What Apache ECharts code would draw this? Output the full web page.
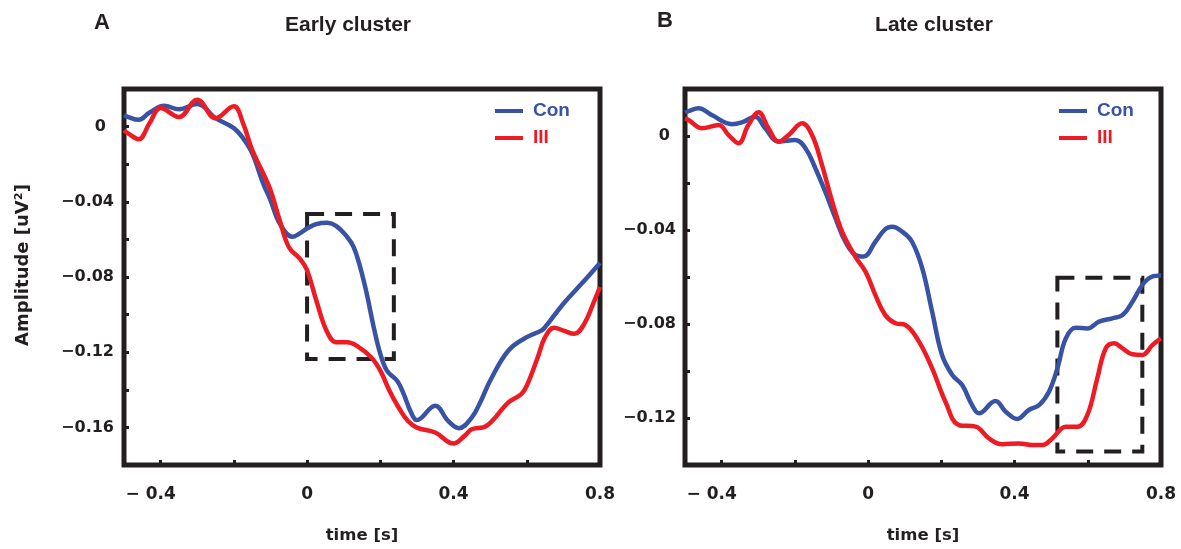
<!DOCTYPE html>
<html>
<head>
<meta charset="utf-8">
<script src="https://cdn.jsdelivr.net/npm/echarts@6/dist/echarts.min.js"></script>
<style>
  html, body { margin: 0; padding: 0; background: #fff; }
  #chart { width: 1181px; height: 549px; }
</style>
</head>
<body>
<div id="chart"></div>
<script>
// [time (s), amplitude]
const earlyCon = [
  [-0.5, 0.006], [-0.49, 0.0052], [-0.46, 0.0036], [-0.43, 0.0075], [-0.39, 0.0111],
  [-0.35, 0.0092], [-0.3, 0.012], [-0.25, 0.0045], [-0.2, -0.0008], [-0.175, -0.0061],
  [-0.15, -0.0141], [-0.12, -0.0302], [-0.1, -0.0391], [-0.075, -0.0515], [-0.04, -0.0586],
  [-0.02, -0.0568], [0, -0.0542], [0.025, -0.0519], [0.055, -0.0512], [0.08, -0.0529],
  [0.109, -0.0586], [0.127, -0.064], [0.145, -0.0747], [0.163, -0.0889], [0.182, -0.1067],
  [0.2, -0.1209], [0.218, -0.1298], [0.246, -0.1352], [0.264, -0.1423], [0.282, -0.1512],
  [0.3, -0.1561], [0.35, -0.1485], [0.385, -0.1565], [0.415, -0.1604], [0.45, -0.1547],
  [0.475, -0.1458], [0.5, -0.1352], [0.55, -0.1191], [0.6, -0.112], [0.64, -0.1085],
  [0.65, -0.1067], [0.7, -0.0942], [0.75, -0.0835], [0.8, -0.0725]
];
const earlyIII = [
  [-0.5, -0.002], [-0.49, -0.0035], [-0.46, -0.0067], [-0.43, 0.0019], [-0.4, 0.0099],
  [-0.35, 0.0051], [-0.3, 0.0143], [-0.25, 0.0045], [-0.2, 0.0108], [-0.175, 0.0019],
  [-0.15, -0.0124], [-0.12, -0.0248], [-0.1, -0.0337], [-0.075, -0.0497], [-0.05, -0.064],
  [-0.02, -0.0702], [0, -0.0764], [0.025, -0.0924], [0.055, -0.1094], [0.08, -0.1147],
  [0.11, -0.1147], [0.135, -0.1165], [0.175, -0.1227], [0.2, -0.1298], [0.225, -0.1405],
  [0.25, -0.1494], [0.275, -0.1565], [0.3, -0.1601], [0.35, -0.1627], [0.4, -0.1686],
  [0.43, -0.1645], [0.45, -0.161], [0.49, -0.1592], [0.55, -0.1467], [0.585, -0.1423],
  [0.6, -0.1378], [0.63, -0.1227], [0.65, -0.112], [0.675, -0.107], [0.7, -0.1085],
  [0.73, -0.1102], [0.757, -0.1049], [0.785, -0.0924], [0.8, -0.0853]
];
const lateCon = [
  [-0.5, 0.01], [-0.49, 0.0106], [-0.463, 0.0118], [-0.427, 0.0089], [-0.372, 0.005],
  [-0.345, 0.0058], [-0.308, 0.0082], [-0.281, 0.0033], [-0.244, -0.0024], [-0.199, -0.0017],
  [-0.171, -0.0052], [-0.144, -0.0137], [-0.117, -0.0237], [-0.089, -0.035], [-0.062, -0.045],
  [-0.035, -0.0506], [-0.012, -0.0513], [0.02, -0.045], [0.047, -0.0396], [0.066, -0.0386],
  [0.093, -0.0407], [0.12, -0.045], [0.148, -0.0563], [0.175, -0.0748], [0.202, -0.0932],
  [0.23, -0.1017], [0.257, -0.106], [0.284, -0.1145], [0.303, -0.118], [0.348, -0.1128],
  [0.376, -0.1173], [0.407, -0.1204], [0.439, -0.1166], [0.467, -0.1145], [0.494, -0.1088],
  [0.517, -0.0989], [0.54, -0.0861], [0.567, -0.0816], [0.599, -0.0819], [0.631, -0.079],
  [0.667, -0.0776], [0.695, -0.0762], [0.722, -0.0705], [0.749, -0.0634], [0.772, -0.0601],
  [0.8, -0.0594]
];
const lateIII = [
  [-0.5, 0.0075], [-0.49, 0.0068], [-0.454, 0.0033], [-0.408, 0.0047], [-0.381, 0.0004],
  [-0.354, -0.0031], [-0.327, 0.0047], [-0.299, 0.0101], [-0.272, 0.0033], [-0.244, -0.0024],
  [-0.217, 0.0004], [-0.18, 0.0054], [-0.153, 0.0004], [-0.126, -0.0123], [-0.098, -0.0279],
  [-0.071, -0.0407], [-0.035, -0.0513], [-0.007, -0.0577], [0.02, -0.0677], [0.047, -0.0762],
  [0.075, -0.0797], [0.102, -0.0804], [0.139, -0.0875], [0.175, -0.0989], [0.211, -0.113],
  [0.248, -0.123], [0.294, -0.1237], [0.33, -0.1287], [0.366, -0.1312], [0.412, -0.1308],
  [0.449, -0.1315], [0.476, -0.1315], [0.503, -0.1287], [0.54, -0.1237], [0.572, -0.1237],
  [0.599, -0.1187], [0.626, -0.1031], [0.649, -0.0904], [0.672, -0.0882], [0.695, -0.0904],
  [0.722, -0.0929], [0.749, -0.0932], [0.777, -0.0889], [0.8, -0.0861]
];
// dashed windows: [[t0, top], [t1, bottom]]
const earlyBox = [[0, -0.0465], [0.237, -0.1236]];
const lateBox = [[0.517, -0.0603], [0.749, -0.1343]];

const xTicks = [-0.4, -0.2, 0, 0.2, 0.4, 0.6];
const xLabels = [-0.4, 0, 0.4, 0.8];
const earlyYTicks = [0, -0.02, -0.04, -0.06, -0.08, -0.1, -0.12, -0.14, -0.16];
const earlyYLabels = [0, -0.04, -0.08, -0.12, -0.16];
const lateYTicks = [0, -0.02, -0.04, -0.06, -0.08, -0.1, -0.12];
const lateYLabels = [0, -0.04, -0.08, -0.12];

const BLUE = '#3953a4';
const RED = '#ed1c24';
const INK = '#231f20';
const ARIAL = '"Liberation Sans", Arial, sans-serif';
const DEJAVU = '"DejaVu Sans", sans-serif';

function xAxis(idx) {
  return {
    type: 'value', gridIndex: idx, min: -0.5, max: 0.8,
    axisLine: { show: false, onZero: false },
    splitLine: { show: false },
    axisTick: { inside: true, length: 5, customValues: xTicks, lineStyle: { color: INK, width: 3 } },
    axisLabel: {
      customValues: xLabels, margin: 21,
      color: INK, fontFamily: DEJAVU, fontWeight: 'bold', fontSize: 17,
      formatter: v => v < 0 ? '{n|− ' + Math.abs(v) + '}' : String(v),
      rich: { n: { fontFamily: DEJAVU, fontWeight: 'bold', fontSize: 17, color: INK, padding: [0, 20, 0, 0] } }
    },
    name: 'time [s]', nameLocation: 'middle', nameGap: 62,
    nameTextStyle: { color: INK, fontFamily: DEJAVU, fontWeight: 'bold', fontSize: 16.5 }
  };
}

function yAxis(idx, min, ticks, labels, zeroPad, margin, name) {
  return {
    type: 'value', gridIndex: idx, min: min, max: 0.02,
    axisLine: { show: false, onZero: false },
    splitLine: { show: false },
    axisTick: { inside: true, length: 5, customValues: ticks, lineStyle: { color: INK, width: 3 } },
    axisLabel: {
      customValues: labels, margin: margin,
      color: INK, fontFamily: DEJAVU, fontWeight: 'bold', fontSize: 16,
      formatter: v => v === 0 ? '{z|0}' : '−' + Math.abs(v).toFixed(2),
      rich: { z: { fontFamily: DEJAVU, fontWeight: 'bold', fontSize: 16, color: INK, padding: [0, zeroPad, 0, 0] } }
    },
    name: name, nameLocation: 'middle', nameGap: 92,
    nameTextStyle: { color: INK, fontFamily: DEJAVU, fontWeight: 'bold', fontSize: 18, padding: [0, 0, 0, 24] }
  };
}

function line(name, data, color, idx, box) {
  const s = {
    name: name, type: 'line', data: data,
    xAxisIndex: idx, yAxisIndex: idx,
    smooth: 0.4, symbol: 'none',
    lineStyle: { color: color, width: 4.5 },
    itemStyle: { color: color }
  };
  if (box) {
    s.markArea = {
      silent: true,
      label: { show: false },
      itemStyle: { color: 'rgba(0,0,0,0)', borderColor: INK, borderWidth: 4, borderType: [17, 11] },
      data: [[{ coord: box[0] }, { coord: box[1] }]]
    };
  }
  return s;
}

function legend(left) {
  return {
    orient: 'vertical', left: left, top: 101, padding: 0,
    icon: 'rect', itemWidth: 28, itemHeight: 4, itemGap: 7,
    selectedMode: false,
    textStyle: { fontFamily: ARIAL, fontWeight: 'bold', fontSize: 19, lineHeight: 20, padding: [0, 0, 0, 5] },
    data: [
      { name: 'Con', textStyle: { color: BLUE } },
      { name: 'III', textStyle: { color: RED } }
    ]
  };
}

function heading(x, y, text, size) {
  return {
    type: 'text', x: x, y: y,
    style: { text: text, fill: INK, font: 'bold ' + size + 'px ' + ARIAL, textAlign: 'center', textVerticalAlign: 'middle' }
  };
}

const chart = echarts.init(document.getElementById('chart'));
chart.setOption({
  animation: false,
  backgroundColor: '#fff',
  grid: [
    { left: 124, top: 89, width: 476, height: 376, show: true, borderColor: INK, borderWidth: 5, backgroundColor: 'transparent' },
    { left: 685, top: 89, width: 476, height: 376, show: true, borderColor: INK, borderWidth: 5, backgroundColor: 'transparent' }
  ],
  xAxis: [xAxis(0), xAxis(1)],
  yAxis: [
    yAxis(0, -0.18, earlyYTicks, earlyYLabels, 8, 10, 'Amplitude [uV²]'),
    yAxis(1, -0.14, lateYTicks, lateYLabels, 6, 9, '')
  ],
  legend: [legend(495), legend(1059)],
  graphic: [
    heading(102, 23, 'A', 22),
    heading(348, 25, 'Early cluster', 21),
    heading(665, 21, 'B', 22),
    heading(934, 25, 'Late cluster', 21)
  ],
  series: [
    line('Con', earlyCon, BLUE, 0, earlyBox),
    line('III', earlyIII, RED, 0),
    line('Con', lateCon, BLUE, 1, lateBox),
    line('III', lateIII, RED, 1)
  ]
});
</script>
</body>
</html>
